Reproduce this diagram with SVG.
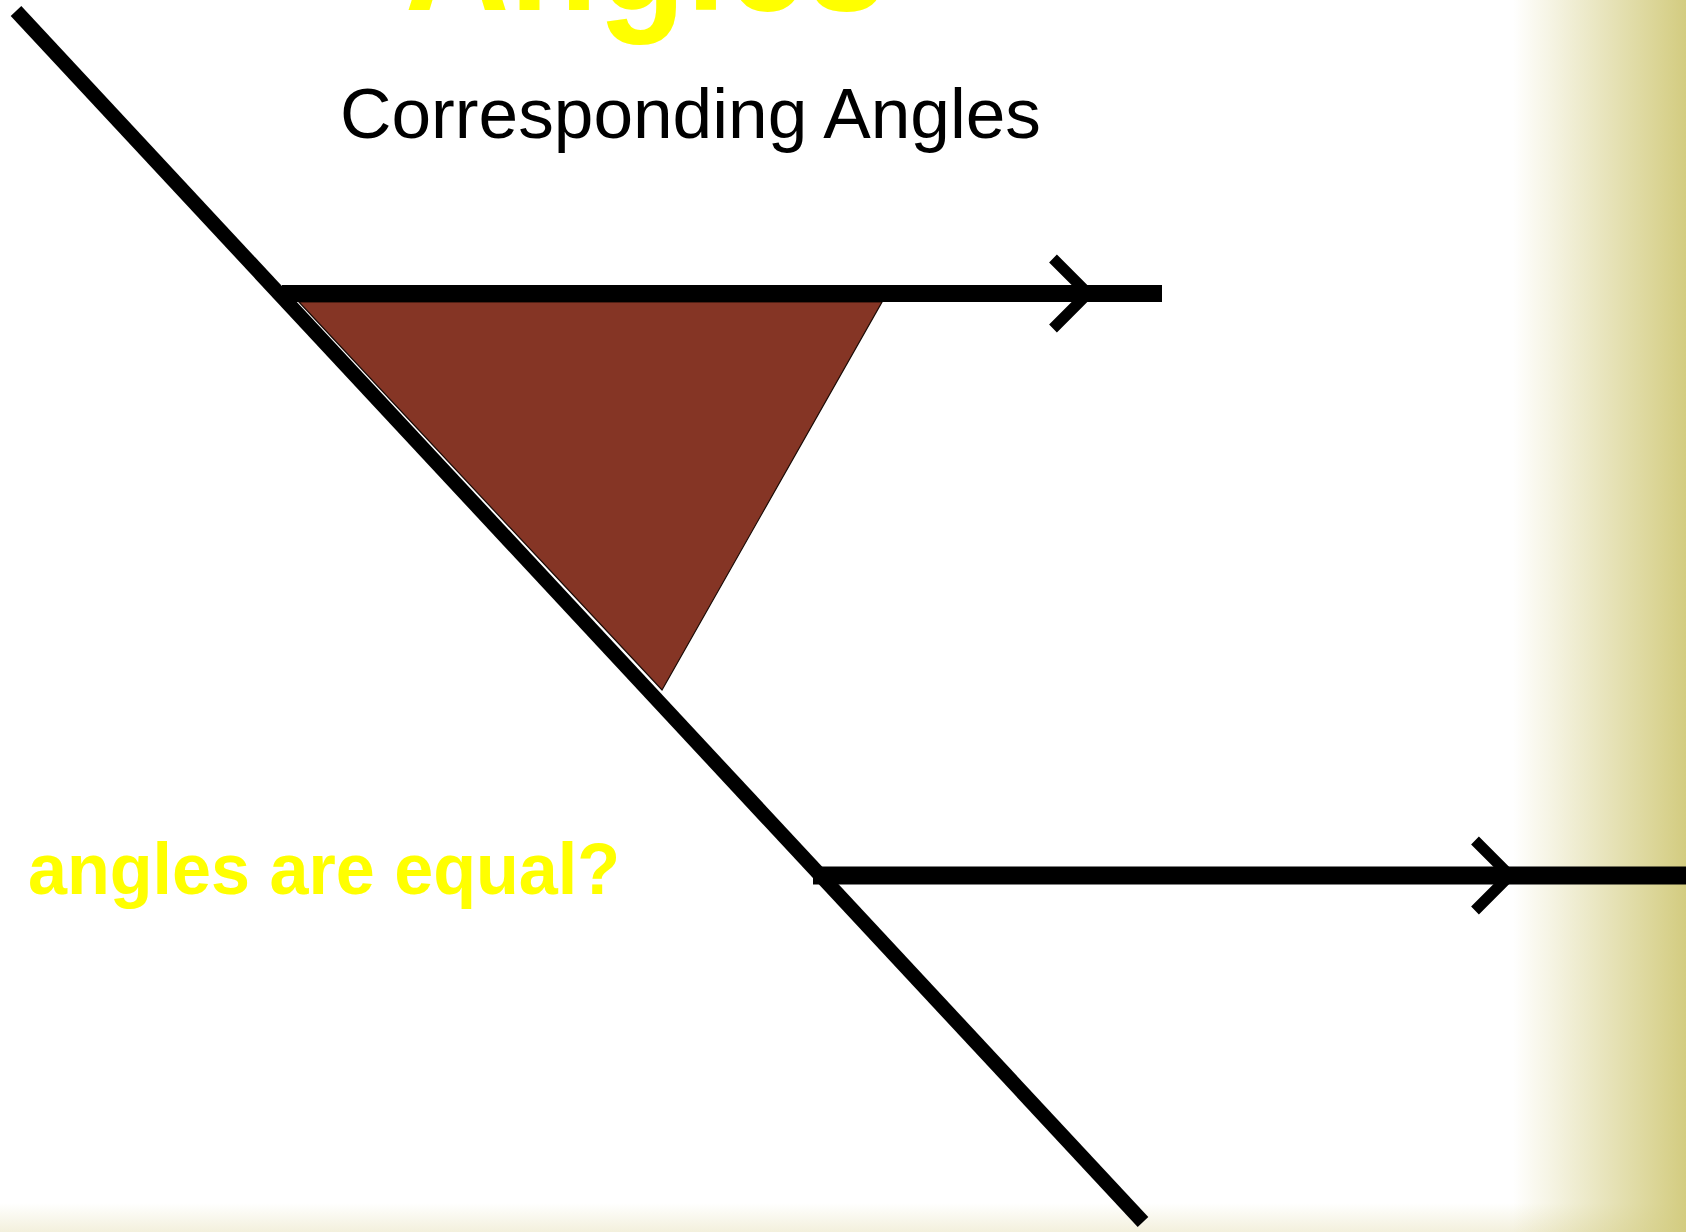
<svg xmlns="http://www.w3.org/2000/svg" width="1686" height="1232" viewBox="0 0 1686 1232">
  <defs>
    <linearGradient id="gRight" x1="0" y1="0" x2="1" y2="0">
      <stop offset="0" stop-color="#D3CC80" stop-opacity="0"/>
      <stop offset="1" stop-color="#D3CC80" stop-opacity="1"/>
    </linearGradient>
    <linearGradient id="gBottom" x1="0" y1="0" x2="0" y2="1">
      <stop offset="0" stop-color="#F3F0DC" stop-opacity="0"/>
      <stop offset="1" stop-color="#F3F0DC" stop-opacity="1"/>
    </linearGradient>
    <style>
      .ln { stroke: #000; fill: none; stroke-linecap: butt; }
      .title { font-family: "Liberation Sans", Arial, sans-serif; fill: #FFFF00; font-weight: bold; }
      .sub { font-family: "Liberation Sans", Arial, sans-serif; fill: #000; }
    </style>
  </defs>
  <rect id="background" x="0" y="0" width="1686" height="1232" fill="#FFFFFF"/>
  <rect id="bottom-band" x="0" y="1203" width="1686" height="29" fill="url(#gBottom)"/>
  <rect id="right-band" x="1513" y="0" width="173" height="1232" fill="url(#gRight)"/>

  <text id="title" class="title" x="405" y="10" font-size="165" textLength="482" lengthAdjust="spacingAndGlyphs">Angles</text>
  <text id="subtitle" class="sub" x="340" y="138" font-size="70" textLength="701" lengthAdjust="spacingAndGlyphs">Corresponding Angles</text>

  <g id="angle-fill">
    <polygon points="299,302 882,302 662,690" fill="#853525" stroke="#1a0a05" stroke-width="1.2"/>
  </g>

  <g id="connectors">
    <line id="transversal" class="ln" x1="16" y1="11" x2="1143" y2="1222" stroke-width="14.5"/>
    <line id="parallel-top" class="ln" x1="282" y1="293.5" x2="1162" y2="293.5" stroke-width="17"/>
    <line id="parallel-bottom" class="ln" x1="813" y1="875.5" x2="1686" y2="875.5" stroke-width="18"/>
    <polyline id="arrow-top" class="ln" points="1053,258.5 1088,293.5 1053,328.5" stroke-width="11" stroke-linejoin="miter"/>
    <polyline id="arrow-bottom" class="ln" points="1475,840.5 1510,875.5 1475,910.5" stroke-width="11" stroke-linejoin="miter"/>
  </g>

  <text id="question" class="title" x="28" y="894" font-size="72" textLength="592" lengthAdjust="spacingAndGlyphs">angles are equal?</text>
</svg>
